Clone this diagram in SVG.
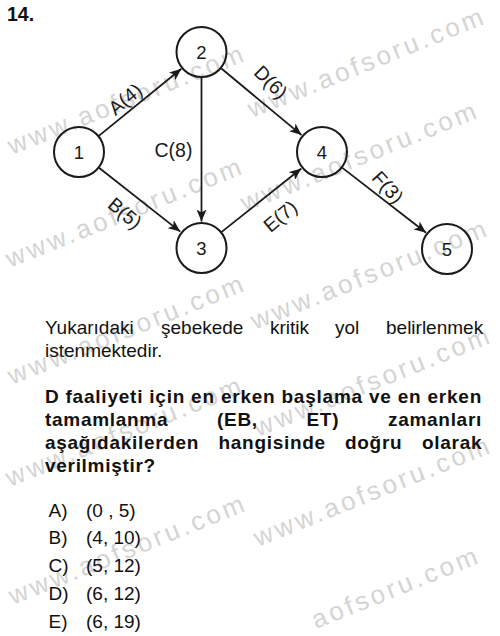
<svg xmlns="http://www.w3.org/2000/svg" width="500" height="636" viewBox="0 0 500 636">
<style>
text{font-family:"Liberation Sans",Arial,sans-serif;}
.wm{font-size:26px;fill:#d4d4d4;letter-spacing:3.3px;}
.node circle{fill:none;stroke:#1a1a1a;stroke-width:2;}
.node text{font-size:18.5px;fill:#1a1a1a;text-anchor:middle;}
.edge{stroke:#1a1a1a;stroke-width:1.8;fill:none;marker-end:url(#arr);}
.lbl{font-size:19.5px;fill:#1a1a1a;text-anchor:middle;}
.reg{font-size:19px;fill:#111;}
.bld{font-size:19px;font-weight:bold;fill:#111;letter-spacing:0.7px;}
.ans{font-size:19px;fill:#111;}
</style>
<defs>
<marker id="arr" markerUnits="userSpaceOnUse" markerWidth="13" markerHeight="10" refX="12" refY="5" orient="auto">
<path d="M0,0 L12,5 L0,10 L3,5 z" fill="#1a1a1a"/>
</marker>
</defs>
<rect width="500" height="636" fill="#fff"/>
<g id="watermarks">
<text class="wm" transform="translate(12,155) rotate(-22)">www.aofsoru.com</text>
<text class="wm" transform="translate(252,118) rotate(-22)">www.aofsoru.com</text>
<text class="wm" transform="translate(10,268) rotate(-22)">www.aofsoru.com</text>
<text class="wm" transform="translate(245,212) rotate(-22)">www.aofsoru.com</text>
<text class="wm" transform="translate(255,330) rotate(-22)">www.aofsoru.com</text>
<text class="wm" transform="translate(258,437) rotate(-22)">www.aofsoru.com</text>
<text class="wm" transform="translate(258,547) rotate(-22)">www.aofsoru.com</text>
<text class="wm" transform="translate(316,629) rotate(-22)">aofsoru.com</text>
<text class="wm" transform="translate(12,385) rotate(-22)">www.aofsoru.com</text>
<text class="wm" transform="translate(10,487) rotate(-22)">www.aofsoru.com</text>
<text class="wm" transform="translate(13,605) rotate(-22)">www.aofsoru.com</text>
</g>
<text x="7" y="21" style="font-size:19.5px;font-weight:bold;fill:#111;">14.</text>
<g id="connectors">
<line class="edge" x1="98.8" y1="135.9" x2="181.4" y2="68.7"/>
<line class="edge" x1="99" y1="167.8" x2="180.2" y2="231.6"/>
<line class="edge" x1="201.5" y1="77.5" x2="201.5" y2="221.5"/>
<line class="edge" x1="221.1" y1="68.3" x2="301.6" y2="135.1"/>
<line class="edge" x1="221.4" y1="232.1" x2="301.3" y2="168.5"/>
<line class="edge" x1="342.1" y1="167.6" x2="426.1" y2="232.8"/>
<text class="lbl" transform="translate(125,99) rotate(-40)" y="7">A(4)</text>
<text class="lbl" transform="translate(125,213) rotate(40)" y="7">B(5)</text>
<text class="lbl" x="173.5" y="156.7">C(8)</text>
<text class="lbl" transform="translate(271,82) rotate(45)" y="7">D(6)</text>
<text class="lbl" transform="translate(280,216) rotate(-40)" y="7">E(7)</text>
<text class="lbl" transform="translate(388,187) rotate(48)" y="7">F(3)</text>
</g>
<g id="node1" class="node"><circle cx="79" cy="152" r="25"/><text x="79" y="158.6">1</text></g>
<g id="node2" class="node"><circle cx="201.5" cy="52" r="25"/><text x="201.5" y="58.6">2</text></g>
<g id="node3" class="node"><circle cx="201.5" cy="248" r="25"/><text x="201.5" y="254.6">3</text></g>
<g id="node4" class="node"><circle cx="322" cy="152" r="25"/><text x="322" y="158.6">4</text></g>
<g id="node5" class="node"><circle cx="447" cy="249" r="25"/><text x="447" y="255.6">5</text></g>
<g id="question">
<text class="reg" y="334"><tspan x="45">Yukarıdaki</tspan><tspan x="161">şebekede</tspan><tspan x="270">kritik</tspan><tspan x="335">yol</tspan><tspan x="386">belirlenmek</tspan></text>
<text class="reg" x="45" y="357">istenmektedir.</text>
<text class="bld" x="45" y="403" textLength="437" lengthAdjust="spacing">D faaliyeti için en erken başlama ve en erken</text>
<text class="bld" y="426"><tspan x="45">tamamlanma</tspan><tspan x="217">(EB,</tspan><tspan x="306.5">ET)</tspan><tspan x="388">zamanları</tspan></text>
<text class="bld" y="449"><tspan x="45">aşağıdakilerden</tspan><tspan x="218.5">hangisinde</tspan><tspan x="345">doğru</tspan><tspan x="422">olarak</tspan></text>
<text class="bld" x="45" y="472">verilmiştir?</text>
</g>
<g id="answers">
<text class="ans" x="48.5" y="516.5">A)</text><text class="ans" x="86" y="516.5">(0 , 5)</text>
<text class="ans" x="48.5" y="544">B)</text><text class="ans" x="86" y="544">(4, 10)</text>
<text class="ans" x="48.5" y="572">C)</text><text class="ans" x="86" y="572">(5, 12)</text>
<text class="ans" x="48.5" y="599.5">D)</text><text class="ans" x="86" y="599.5">(6, 12)</text>
<text class="ans" x="48.5" y="627.5">E)</text><text class="ans" x="86" y="627.5">(6, 19)</text>
</g>
</svg>
